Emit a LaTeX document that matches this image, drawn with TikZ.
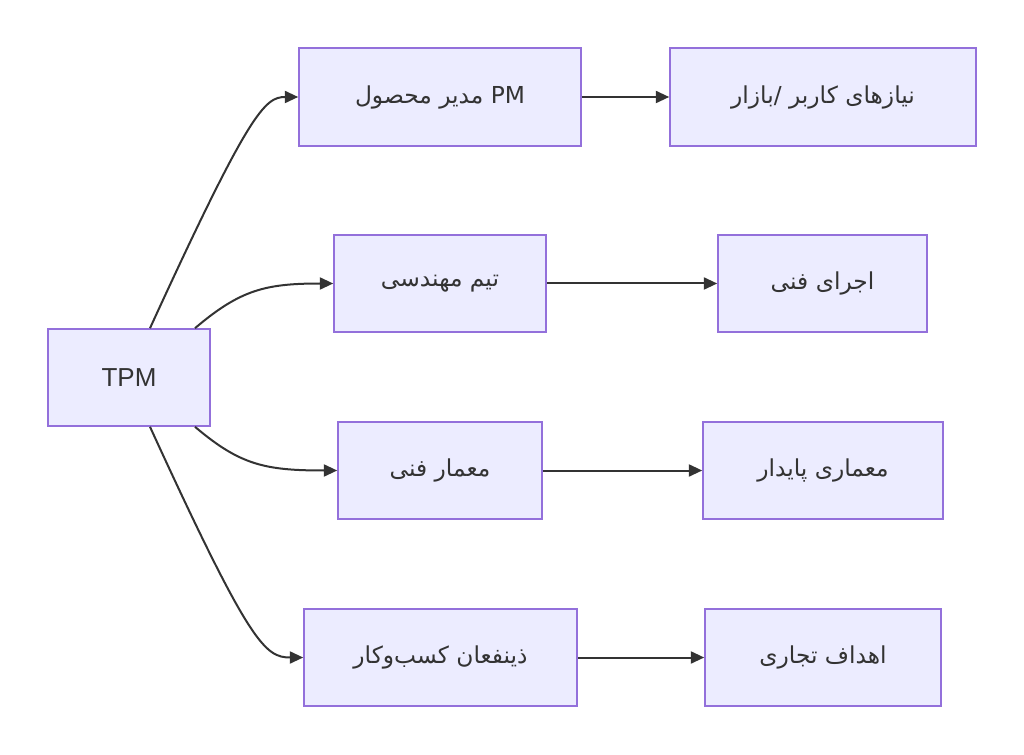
\documentclass[tikz,border=0pt]{standalone}
\usepackage{fontspec}
\setmainfont{Liberation Sans}
\newfontfamily\arabicfont[Script=Arabic]{DejaVu Sans}
\TeXXeTstate=1
\usetikzlibrary{arrows.meta}
\definecolor{boxfill}{HTML}{ECECFF}
\definecolor{boxline}{HTML}{9370DB}
\definecolor{ink}{HTML}{333333}
\tikzset{
  box/.style={draw=boxline, fill=boxfill, line width=1.2pt, inner sep=0pt, text=ink, font=\fontsize{17.5pt}{20pt}\selectfont},
  conn/.style={draw=ink, line width=1.5pt, -{Triangle[length=10pt,width=9pt]}},
}
\begin{document}
\begin{tikzpicture}[x=0.75pt,y=-0.75pt]
\useasboundingbox (0,0) rectangle (1024,755);
\node[box, minimum width=162*0.75pt, minimum height=97*0.75pt, font=\fontsize{19.5pt}{22pt}\selectfont] (tpm) at (129,377.5) {TPM};
\node[box, minimum width=282*0.75pt, minimum height=98*0.75pt] (pm) at (440,97) {\arabicfont\beginR\beginL PM\endL{} مدیر محصول\endR};
\node[box, minimum width=306*0.75pt, minimum height=98*0.75pt] (needs) at (823,97) {\arabicfont\beginR نیازهای کاربر /بازار\endR};
\node[box, minimum width=212*0.75pt, minimum height=97*0.75pt] (eng) at (440,283.5) {\arabicfont\beginR تیم مهندسی\endR};
\node[box, minimum width=209*0.75pt, minimum height=97*0.75pt] (exec) at (822.5,283.5) {\arabicfont\beginR اجرای فنی\endR};
\node[box, minimum width=204*0.75pt, minimum height=97*0.75pt] (arch) at (440,470.5) {\arabicfont\beginR معمار فنی\endR};
\node[box, minimum width=240*0.75pt, minimum height=97*0.75pt] (sust) at (823,470.5) {\arabicfont\beginR معماری پایدار\endR};
\node[box, minimum width=273*0.75pt, minimum height=97*0.75pt] (stake) at (440.5,657.5) {\arabicfont\beginR ذینفعان کسب^^^^200cوکار\endR};
\node[box, minimum width=236*0.75pt, minimum height=97*0.75pt] (goals) at (823,657.5) {\arabicfont\beginR اهداف تجاری\endR};

\draw[conn] ([xshift=21*0.75pt]tpm.north) .. controls (250,110) and (265,97) .. (pm.west);
\draw[conn] ([xshift=66*0.75pt]tpm.north) .. controls (240,290) and (265,283.5) .. (eng.west);
\draw[conn] ([xshift=66*0.75pt]tpm.south) .. controls (240,465) and (265,470.5) .. (arch.west);
\draw[conn] ([xshift=21*0.75pt]tpm.south) .. controls (250,645) and (265,657.5) .. (stake.west);
\draw[conn] (pm) -- (needs);
\draw[conn] (eng) -- (exec);
\draw[conn] (arch) -- (sust);
\draw[conn] (stake) -- (goals);
\end{tikzpicture}
\end{document}
